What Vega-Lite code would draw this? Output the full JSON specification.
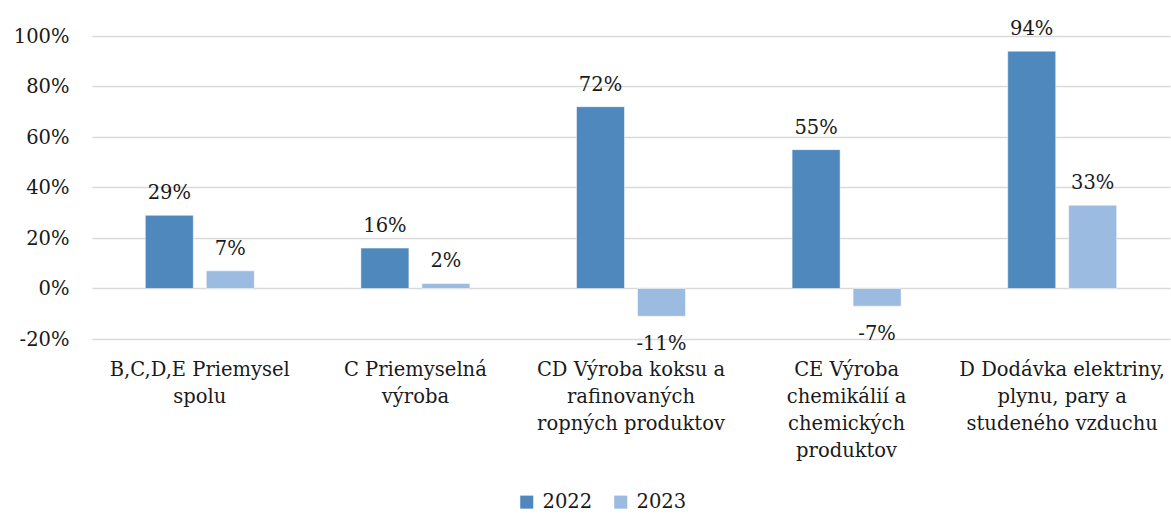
{
  "$schema": "https://vega.github.io/schema/vega-lite/v6.json",
  "autosize": "none",
  "width": 1078,
  "height": 303,
  "padding": {"left": 92, "top": 36, "right": 1, "bottom": 176},
  "background": "white",
  "config": {
    "view": {"stroke": null},
    "font": "DejaVu Serif",
    "locale": {"number": {"decimal": ".", "thousands": ",", "grouping": [3], "currency": ["$", ""], "minus": "-"}},
    "axis": {"labelFont": "DejaVu Serif", "labelColor": "#1a1a1a", "labelFontSize": 19.5}
  },
  "data": {
    "values": [
      {"cat": "B,C,D,E Priemysel|spolu", "year": "2022", "value": 0.29},
      {"cat": "B,C,D,E Priemysel|spolu", "year": "2023", "value": 0.07},
      {"cat": "C Priemyselná|výroba", "year": "2022", "value": 0.16},
      {"cat": "C Priemyselná|výroba", "year": "2023", "value": 0.02},
      {"cat": "CD Výroba koksu a|rafinovaných|ropných produktov", "year": "2022", "value": 0.72},
      {"cat": "CD Výroba koksu a|rafinovaných|ropných produktov", "year": "2023", "value": -0.11},
      {"cat": "CE Výroba|chemikálií a|chemických|produktov", "year": "2022", "value": 0.55},
      {"cat": "CE Výroba|chemikálií a|chemických|produktov", "year": "2023", "value": -0.07},
      {"cat": "D Dodávka elektriny,|plynu, pary a|studeného vzduchu", "year": "2022", "value": 0.94},
      {"cat": "D Dodávka elektriny,|plynu, pary a|studeného vzduchu", "year": "2023", "value": 0.33}
    ]
  },
  "encoding": {
    "x": {
      "field": "cat", "type": "nominal", "sort": null,
      "scale": {"paddingInner": 0, "paddingOuter": 0},
      "axis": {
        "title": null, "orient": "bottom", "labelAngle": 0, "domain": false, "ticks": false,
        "labelExpr": "split(datum.label, '|')", "labelLineHeight": 27, "labelLimit": 0,
        "labelBaseline": "top", "labelPadding": 21, "labelAlign": "center"
      }
    },
    "xOffset": {"field": "year", "type": "nominal", "scale": {"paddingInner": 0.213, "paddingOuter": 0.874}},
    "y": {
      "field": "value", "type": "quantitative",
      "scale": {"domain": [-0.2, 1], "nice": false},
      "axis": {
        "title": null, "format": ".0%", "values": [-0.2, 0, 0.2, 0.4, 0.6, 0.8, 1],
        "domain": false, "ticks": false, "labelPadding": 23,
        "gridColor": "#d9d9d9", "gridWidth": 1.5
      }
    }
  },
  "layer": [
    {
      "mark": {"type": "bar", "stroke": "white", "strokeWidth": 0.5},
      "encoding": {
        "color": {
          "field": "year", "type": "nominal",
          "scale": {"domain": ["2022", "2023"], "range": ["#4f88bd", "#9bbbe0"]},
          "legend": {
            "title": null, "orient": "none", "direction": "horizontal",
            "legendX": 425, "legendY": 456, "symbolType": "square", "symbolSize": 170,
            "symbolStrokeWidth": 0, "labelFontSize": 19.5, "labelFont": "DejaVu Serif",
            "labelColor": "#1a1a1a", "columnPadding": 18, "labelOffset": 6
          }
        }
      }
    },
    {
      "transform": [{"filter": "datum.value >= 0"}],
      "mark": {"type": "text", "baseline": "alphabetic", "dy": -16, "fontSize": 19.5, "color": "#1a1a1a"},
      "encoding": {"text": {"field": "value", "type": "quantitative", "format": ".0%"}}
    },
    {
      "transform": [{"filter": "datum.value < 0"}],
      "mark": {"type": "text", "baseline": "top", "dy": 19, "fontSize": 19.5, "color": "#1a1a1a"},
      "encoding": {"text": {"field": "value", "type": "quantitative", "format": ".0%"}}
    }
  ]
}
